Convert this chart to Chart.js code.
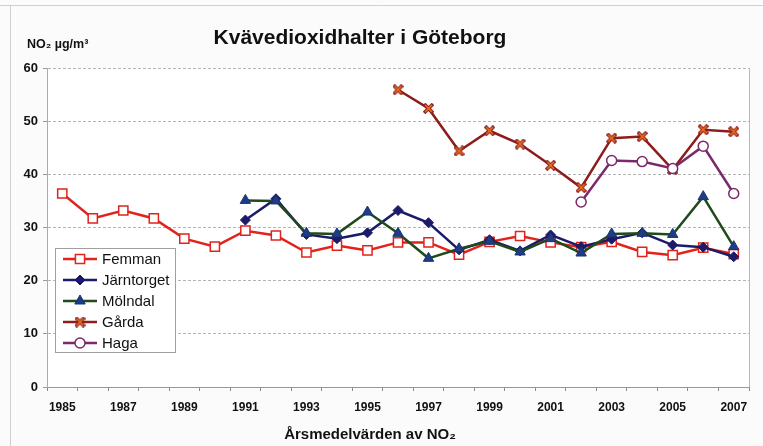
<!DOCTYPE html>
<html>
<head>
<meta charset="utf-8">
<script src="https://cdn.jsdelivr.net/npm/chart.js@4/dist/chart.umd.min.js"></script>
<style>
html,body{margin:0;padding:0;background:#fbfbfb;}
#wrap{width:763px;height:446px;position:relative;}
</style>
</head>
<body>
<div id="wrap"><canvas id="c" width="763" height="446"></canvas></div>
<script>
const years = ['1985','1986','1987','1988','1989','1990','1991','1992','1993','1994','1995','1996','1997','1998','1999','2000','2001','2002','2003','2004','2005','2006','2007'];
const femman =     [36.4,31.7,33.2,31.7,27.9,26.4,29.4,28.5,25.3,26.6,25.7,27.2,27.2,24.9,27.3,28.4,27.2,26.3,27.3,25.4,24.8,26.2,25.0];
const jarntorget = [null,null,null,null,null,null,31.4,35.4,28.7,27.9,29.0,33.2,30.9,25.8,27.7,25.6,28.6,26.4,27.8,29.0,26.7,26.3,24.5];
const molndal =    [null,null,null,null,null,null,35.1,35.0,28.9,28.8,32.9,28.9,24.2,26.0,27.4,25.4,27.9,25.2,28.8,28.9,28.7,35.8,26.4];
const garda =      [null,null,null,null,null,null,null,null,null,null,null,55.9,52.4,44.4,48.2,45.7,41.7,37.5,46.8,47.1,40.9,48.4,48.0];
const haga =       [null,null,null,null,null,null,null,null,null,null,null,null,null,null,null,null,null,34.8,42.6,42.4,41.1,45.3,36.4];
const seriesNames = ['Femman','Järntorget','Mölndal','Gårda','Haga'];
const yTicks = [0,10,20,30,40,50,60];
const chartTitle = 'Kvävedioxidhalter i Göteborg';
const yTitle = 'NO₂ µg/m³';
const xTitle = 'Årsmedelvärden av NO₂';

const FONT = '"Liberation Sans", Arial, sans-serif';

// Gårda marker: X shape with orange fill and dark red edge
function makeCross(){
  const c = document.createElement('canvas');
  c.width = 11; c.height = 11;
  const g = c.getContext('2d');
  g.lineCap = 'square';
  g.strokeStyle = '#8e1c1c'; g.lineWidth = 3.6;
  g.beginPath(); g.moveTo(2.3,2.3); g.lineTo(8.7,8.7); g.moveTo(8.7,2.3); g.lineTo(2.3,8.7); g.stroke();
  g.strokeStyle = '#f07a1a'; g.lineWidth = 1.4;
  g.beginPath(); g.moveTo(2.6,2.6); g.lineTo(8.4,8.4); g.moveTo(8.4,2.6); g.lineTo(2.6,8.4); g.stroke();
  return c;
}
const crossImg = makeCross();

const datasets = [
  {label: seriesNames[0], data: femman, borderColor:'#e2231c', backgroundColor:'#ffffff', pointBorderColor:'#e2231c', pointBackgroundColor:'#ffffff', pointStyle:'rect', pointRadius:6.5, pointBorderWidth:1.5, borderWidth:2.5, order:4},
  {label: seriesNames[1], data: jarntorget, borderColor:'#1b1b6a', backgroundColor:'#1b1b6a', pointBorderColor:'#1b1b6a', pointBackgroundColor:'#1b1b6a', pointStyle:'rectRot', pointRadius:5, pointBorderWidth:1, borderWidth:2.5, order:3},
  {label: seriesNames[2], data: molndal, borderColor:'#1f4a1c', backgroundColor:'#1d3d86', pointBorderColor:'#1d3370', pointBackgroundColor:'#1d3d86', pointStyle:'triangle', pointRadius:6, pointBorderWidth:1, borderWidth:2.5, order:2},
  {label: seriesNames[3], data: garda, borderColor:'#8e1c1c', backgroundColor:'#f07a1a', pointStyle: crossImg, pointRadius:6, borderWidth:2.5, order:1},
  {label: seriesNames[4], data: haga, borderColor:'#7a2a68', backgroundColor:'#ffffff', pointBorderColor:'#7a2a68', pointBackgroundColor:'#ffffff', pointStyle:'circle', pointRadius:5, pointBorderWidth:1.5, borderWidth:2.5, order:0}
];
datasets.forEach(d => { d.tension = 0; d.fill = false; d.spanGaps = false; });

const decor = {
  id:'decor',
  beforeDraw(chart){
    const {ctx, chartArea:a} = chart;
    ctx.save();
    ctx.fillStyle = '#ffffff';
    ctx.fillRect(a.left, a.top, a.right-a.left, a.bottom-a.top);
    ctx.strokeStyle = '#d0d0d0'; ctx.lineWidth = 1;
    ctx.beginPath(); ctx.moveTo(0,5.5); ctx.lineTo(763,5.5); ctx.stroke();
    ctx.beginPath(); ctx.moveTo(10.5,5); ctx.lineTo(10.5,446); ctx.stroke();
    ctx.restore();
  },
  afterDatasetsDraw(chart){
    const {ctx, chartArea:a} = chart;
    ctx.save();
    ctx.strokeStyle = '#b8b8b8'; ctx.lineWidth = 1;
    ctx.beginPath(); ctx.moveTo(a.right+0.5, a.top); ctx.lineTo(a.right+0.5, a.bottom); ctx.stroke();
    ctx.fillStyle = '#111';
    ctx.textBaseline = 'middle';
    ctx.textAlign = 'center';
    ctx.font = 'bold 21px ' + FONT;
    ctx.fillText(chartTitle, 360, 38);
    ctx.textAlign = 'left';
    ctx.font = 'bold 12.5px ' + FONT;
    ctx.fillText(yTitle, 27, 45);
    ctx.textAlign = 'center';
    ctx.font = 'bold 15px ' + FONT;
    ctx.fillText(xTitle, 370, 435);

    // legend
    const lx = 55, ly = 248, lw = 120, lh = 104;
    ctx.fillStyle = '#ffffff';
    ctx.fillRect(lx, ly, lw, lh);
    ctx.strokeStyle = '#a0a0a0'; ctx.lineWidth = 1;
    ctx.strokeRect(lx+0.5, ly+0.5, lw, lh);
    chart.data.datasets.forEach((d, i) => {
      const y = ly + 11 + i*21;
      ctx.strokeStyle = d.borderColor; ctx.lineWidth = 2.5;
      ctx.beginPath(); ctx.moveTo(63, y); ctx.lineTo(97, y); ctx.stroke();
      if (d.pointStyle instanceof HTMLCanvasElement) {
        ctx.drawImage(d.pointStyle, 80 - d.pointStyle.width/2, y - d.pointStyle.height/2);
      } else {
        ctx.fillStyle = d.pointBackgroundColor; ctx.strokeStyle = d.pointBorderColor; ctx.lineWidth = d.pointBorderWidth;
        Chart.helpers.drawPoint(ctx, {pointStyle: d.pointStyle, radius: d.pointRadius, borderWidth: d.pointBorderWidth, rotation: 0}, 80, y);
      }
      ctx.fillStyle = '#111';
      ctx.font = '15px ' + FONT;
      ctx.textAlign = 'left';
      ctx.fillText(d.label, 102, y + 1);
    });
    ctx.restore();
  }
};

new Chart(document.getElementById('c'), {
  type: 'line',
  data: {labels: years, datasets},
  options: {
    responsive: false,
    animation: false,
    devicePixelRatio: 1,
    layout: {padding: {top: 68, right: 14, bottom: 0, left: 0}},
    plugins: {legend: {display: false}, title: {display: false}, tooltip: {enabled: false}},
    scales: {
      x: {
        type: 'category',
        offset: true,
        grid: {display: true, offset: true, drawOnChartArea: false, drawTicks: true, tickLength: 4, color: '#888'},
        border: {display: true, color: '#9a9a9a'},
        ticks: {
          autoSkip: false, maxRotation: 0, padding: 9, color: '#111',
          font: {family: FONT, size: 12, weight: 'bold'},
          callback: function(v, i){ return i % 2 === 0 ? this.getLabelForValue(v) : ''; }
        },
        afterFit(s){ s.height = 59; }
      },
      y: {
        min: 0, max: 60,
        afterBuildTicks(s){ s.ticks = yTicks.map(v => ({value: v})); },
        grid: {color: '#b4b4b4', tickLength: 4, drawTicks: true, tickColor: '#999'},
        border: {display: true, color: '#b9a99a', dash: [3,2]},
        ticks: {color: '#111', padding: 5, font: {family: FONT, size: 13, weight: 'bold'}},
        afterFit(s){ s.width = 47; }
      }
    }
  },
  plugins: [decor]
});
</script>
</body>
</html>
